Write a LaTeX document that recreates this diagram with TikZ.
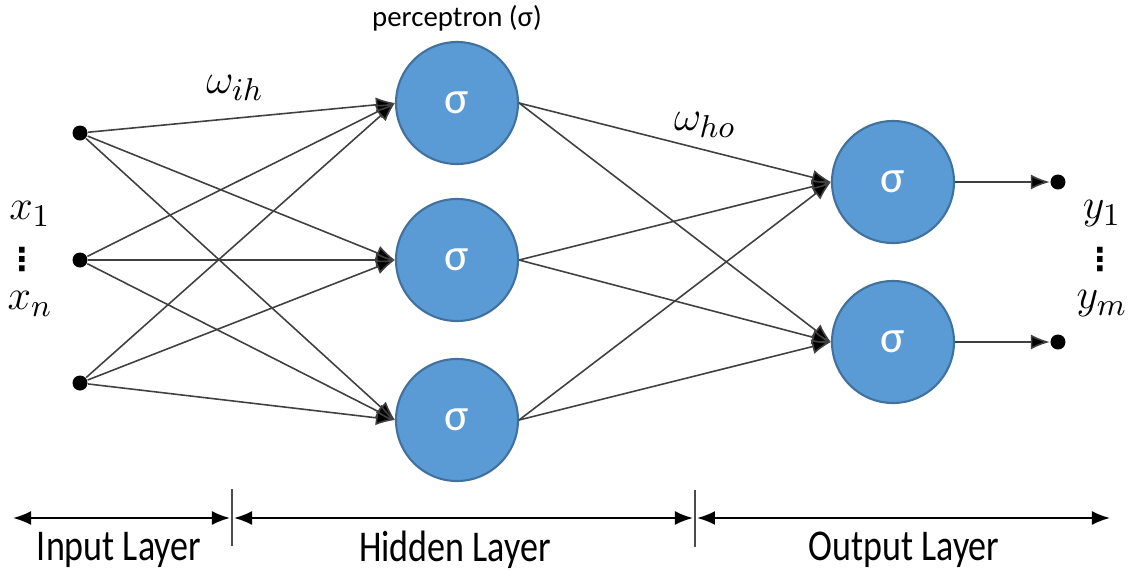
\documentclass[tikz,border=0pt]{standalone}
\usepackage{fontspec}
\setmainfont{Carlito}
\newfontfamily\narrowfont{Carlito}[FakeStretch=0.82]
\newfontfamily\dotsfont{DejaVu Sans}
\usepackage{amsmath}
\usepackage{tikz}
\usetikzlibrary{arrows.meta,calc}
\definecolor{nodeblue}{HTML}{5B9BD5}
\definecolor{nodeedge}{HTML}{41719C}
\tikzstyle{neuron} = [circle, draw=nodeedge, fill=nodeblue, line width=0.6pt, minimum size=12.2mm, inner sep=0pt, text=white, font=\fontsize{13}{15}\selectfont]
\tikzstyle{dot} = [circle, fill=black, inner sep=0pt, minimum size=1.5mm]
\tikzstyle{connector} = [line width=0.45pt, draw=black!75, -{Latex[length=1.9mm,width=1.5mm,fill=black]}]
\tikzstyle{layerspan} = [line width=0.6pt, {Latex[length=1.8mm,width=1.4mm]}-{Latex[length=1.8mm,width=1.4mm]}]
\tikzstyle{label} = [inner sep=0pt, font=\fontsize{13}{15}\selectfont]
\tikzstyle{vdotlabel} = [inner sep=0pt, font=\dotsfont\bfseries\fontsize{9}{10}\selectfont]
\tikzstyle{layername} = [font=\narrowfont\fontsize{12.5}{15}\selectfont]

\begin{document}
\begin{tikzpicture}
                \useasboundingbox (0,0) rectangle (11.33,-5.71);

                % input dots
                \node (i1) [dot] at (0.80,-1.33) {};
                \node (i2) [dot] at (0.80,-2.60) {};
                \node (i3) [dot] at (0.80,-3.83) {};

                % hidden layer
                \node (h1) [neuron] at (4.57,-1.03) {σ};
                \node (h2) [neuron] at (4.57,-2.60) {σ};
                \node (h3) [neuron] at (4.57,-4.20) {σ};

                % output layer
                \node (o1) [neuron] at (8.93,-1.82) {σ};
                \node (o2) [neuron] at (8.93,-3.42) {σ};
                \node (y1) [dot] at (10.58,-1.82) {};
                \node (y2) [dot] at (10.58,-3.42) {};

                % labels
                \node (perc) [font=\fontsize{8.2}{10}\selectfont] at (4.57,-0.18) {perceptron (σ)};
                \node (wih) [label] at (2.35,-0.88) {$\omega_{ih}$};
                \node (who) [label] at (7.05,-1.25) {$\omega_{ho}$};
                \node (xa) [label] at (0.30,-2.14) {$x_1$};
                \node (xdots) [vdotlabel] at (0.22,-2.60) {⋮};
                \node (xb) [label] at (0.30,-3.04) {$x_n$};
                \node (ya) [label] at (11.02,-2.14) {$y_1$};
                \node (ydots) [vdotlabel] at (11.00,-2.60) {⋮};
                \node (yb) [label] at (11.02,-3.04) {$y_m$};

                % input -> hidden
                \draw [connector] (i1) -- (h1.west);
                \draw [connector] (i1) -- (h2.west);
                \draw [connector] (i1) -- (h3.west);
                \draw [connector] (i2) -- (h1.west);
                \draw [connector] (i2) -- (h2.west);
                \draw [connector] (i2) -- (h3.west);
                \draw [connector] (i3) -- (h1.west);
                \draw [connector] (i3) -- (h2.west);
                \draw [connector] (i3) -- (h3.west);

                % hidden -> output
                \draw [connector] (h1.east) -- (o1.west);
                \draw [connector] (h1.east) -- (o2.west);
                \draw [connector] (h2.east) -- (o1.west);
                \draw [connector] (h2.east) -- (o2.west);
                \draw [connector] (h3.east) -- (o1.west);
                \draw [connector] (h3.east) -- (o2.west);

                % output -> y
                \draw [connector] (o1) -- (y1);
                \draw [connector] (o2) -- (y2);

                % layer spans along the bottom
                \coordinate (s0) at (0.13,-5.18);
                \coordinate (s1) at (2.32,-5.18);
                \coordinate (s2) at (6.95,-5.18);
                \coordinate (s3) at (11.10,-5.18);
                \draw [black!70, line width=0.4pt] ($(s1)+(0,0.29)$) -- ($(s1)+(0,-0.28)$);
                \draw [black!70, line width=0.4pt] ($(s2)+(0,0.28)$) -- ($(s2)+(0,-0.29)$);
                \draw [layerspan] (s0) -- ($(s1)+(-0.02,0)$);
                \draw [layerspan] ($(s1)+(0.02,0)$) -- ($(s2)+(-0.02,0)$);
                \draw [layerspan] ($(s2)+(0.02,0)$) -- (s3);

                \node (lin) [layername] at (1.19,-5.50) {Input Layer};
                \node (lhid) [layername] at (4.55,-5.50) {Hidden Layer};
                \node (lout) [layername] at (9.04,-5.50) {Output Layer};
            \end{tikzpicture}
\end{document}
